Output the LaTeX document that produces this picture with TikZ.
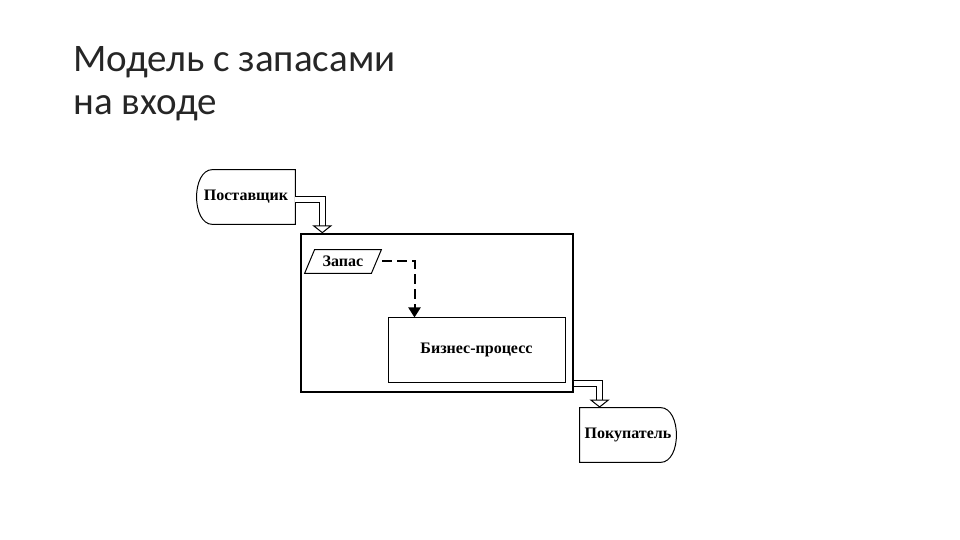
\documentclass[tikz,border=0pt]{standalone}
\usepackage{fontspec}
\setmainfont{Liberation Serif}
\newfontfamily\titlefont{Carlito}
\usepackage{tikz}
\usetikzlibrary{arrows.meta,positioning,calc}

\begin{document}
\begin{tikzpicture}[x=0.5pt,y=-0.5pt,
    lbl/.style={font=\bfseries\fontsize{8}{9}\selectfont,inner sep=0pt},
    outline/.style={draw=black,line width=0.5pt},
    pipe/.style={line width=0.5pt,double=white,double distance=2.5pt,
      -{Triangle[open,length=4pt,width=10pt,line width=0.5pt]}},
    dashflow/.style={line width=1pt,dash pattern=on 5pt off 2.5pt,
      -{Triangle[length=5pt,width=6pt]}}
  ]
    \useasboundingbox (0,0) rectangle (960,540);
    \node[anchor=north west,align=left,inner sep=0pt,text=black!85,
      font=\titlefont\fontsize{19.5}{21.5}\selectfont] (title) at (73,46)
      {Модель с запасами\\на входе};
    \node[lbl,minimum width=49pt,minimum height=27pt] (post) at (246,197) {Поставщик};
    \node[outline,line width=0.7pt,minimum width=136pt,minimum height=79pt] (inv) at (437,313) {};
    \node[lbl,minimum width=33pt,minimum height=11.5pt] (stock) at (343,261.5) {Запас};
    \node[outline,lbl,minimum width=88.5pt,minimum height=32pt] (proc) at (476.5,350) {Бизнес-процесс};
    \node[lbl,minimum width=48pt,minimum height=27pt] (buyer) at (628,435) {Покупатель};
    \draw[outline] (post.north east) -- (post.south east) -- ([xshift=8pt]post.south west)
      .. controls +(-10.7pt,0) and +(-10.7pt,0) .. ([xshift=8pt]post.north west) -- cycle;
    \draw[outline] ([xshift=2.5pt]stock.north west) -- ([xshift=2.5pt]stock.north east)
      -- ([xshift=-2.5pt]stock.south east) -- ([xshift=-2.5pt]stock.south west) -- cycle;
    \draw[outline] (buyer.north west) -- ([xshift=-8pt]buyer.north east)
      .. controls +(10.7pt,0) and +(10.7pt,0) .. ([xshift=-8pt]buyer.south east)
      -- (buyer.south west) -- cycle;
    \draw[pipe] ([yshift=-1.5pt]post.east) -| ([xshift=11pt]inv.north west);
    \draw[dashflow] ([xshift=3pt]stock.east) -| ([xshift=13.5pt]proc.north west);
    \draw[pipe] ([yshift=4.75pt]inv.south east) -| ([xshift=10pt]buyer.north west);
  \end{tikzpicture}
\end{document}
